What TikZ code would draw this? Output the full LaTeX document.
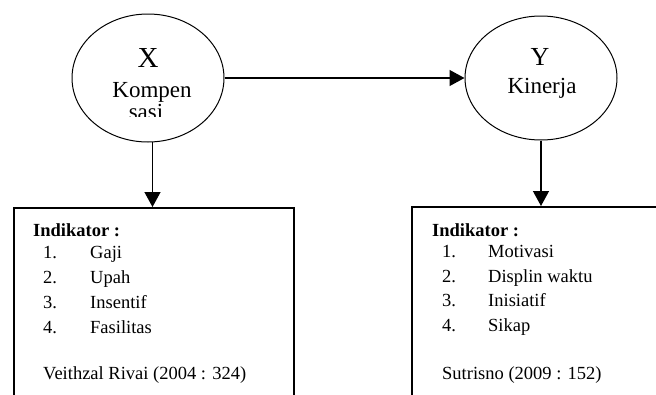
\documentclass[tikz,border=0pt]{standalone}
\usepackage{fontspec}
\setmainfont{Liberation Serif}
\usetikzlibrary{arrows.meta,shapes.geometric}
\begin{document}
\begin{tikzpicture}[x=1pt,y=-1pt,
  circ/.style={draw,ellipse,line width=1pt,minimum width=152pt,minimum height=128pt,inner sep=0pt},
  arr/.style={line width=1.3pt,-{Triangle[length=15pt,width=16pt]}},
  boxline/.style={draw,line width=1.6pt},
  txt/.style={anchor=base west,inner sep=0pt,font=\fontsize{18.5}{22}\selectfont},
  big/.style={anchor=base,inner sep=0pt}]
\useasboundingbox (0,0) rectangle (656,394);
\clip (0,0) rectangle (656,394);
% ellipses
\node[circ] (X) at (148,78) {};
\node[circ,minimum height=124pt] (Y) at (541,78) {};
\node[big,font=\fontsize{29}{34}\selectfont] (xl) at (148,67) {X};
\node[big,font=\fontsize{23}{27}\selectfont] (xk) at (152,97) {Kompen};
\begin{scope}
\clip (100,100) rectangle (200,116);
\node[big,font=\fontsize{23}{27}\selectfont] (xs) at (146,119) {sasi};
\end{scope}
\node[big,font=\fontsize{26}{30}\selectfont] (yl) at (540,65) {Y};
\node[big,font=\fontsize{23}{27}\selectfont] (yk) at (542,93) {Kinerja};
% boxes (bottom cut off by the page)
\node[boxline,rectangle,anchor=north west,minimum width=280pt,minimum height=220pt,inner sep=0pt] (bL) at (13,207) {};
\node[boxline,rectangle,anchor=north west,minimum width=280pt,minimum height=220pt,inner sep=0pt] (bR) at (411,206) {};
% connectors
\draw[arr] (X.east) -- (Y.west);
\draw[arr] (X.-86) -- (X.-86 |- bL.north);
\draw[arr] (Y.south) -- (Y.south |- bR.north);
% left box text
\node[txt,font=\bfseries\fontsize{18.5}{22}\selectfont] (li) at (33,236) {Indikator :};
\node[txt] (ln1) at (43,258) {1.};
\node[txt] (lt1) at (90,258) {Gaji};
\node[txt] (ln2) at (43,283) {2.};
\node[txt] (lt2) at (90,283) {Upah};
\node[txt] (ln3) at (43,308) {3.};
\node[txt] (lt3) at (90,308) {Insentif};
\node[txt] (ln4) at (43,333) {4.};
\node[txt] (lt4) at (90,333) {Fasilitas};
\node[txt] (lc) at (43,379) {Veithzal Rivai (2004 : 324)};
% right box text
\node[txt,font=\bfseries\fontsize{18.5}{22}\selectfont] (ri) at (432,236) {Indikator :};
\node[txt] (rn1) at (442,257) {1.};
\node[txt] (rt1) at (488,257) {Motivasi};
\node[txt] (rn2) at (442,282) {2.};
\node[txt] (rt2) at (488,282) {Displin waktu};
\node[txt] (rn3) at (442,306) {3.};
\node[txt] (rt3) at (488,306) {Inisiatif};
\node[txt] (rn4) at (442,331) {4.};
\node[txt] (rt4) at (488,331) {Sikap};
\node[txt] (rc) at (442,379) {Sutrisno (2009 : 152)};
\end{tikzpicture}
\end{document}
